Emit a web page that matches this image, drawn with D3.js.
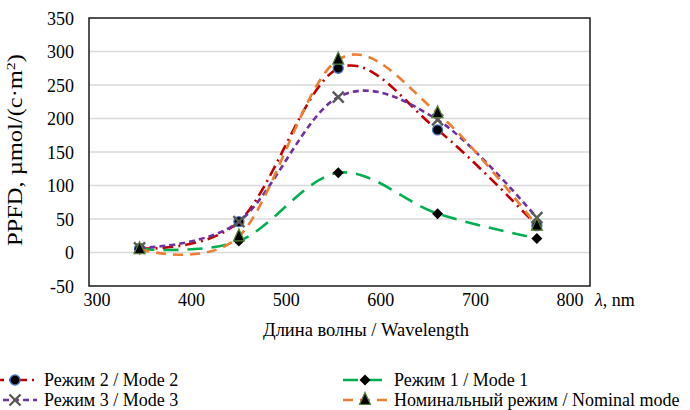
<!DOCTYPE html>
<html>
<head>
<meta charset="utf-8">
<title>PPFD</title>
<script src="https://d3js.org/d3.v7.min.js"></script>
<style>
  body { margin: 0; background: #fff; }
  text { font-family: "Liberation Serif", "Times New Roman", serif; fill: #000; }
</style>
</head>
<body>
<div id="chart"></div>
<script>
// wavelengths of the measurement points, nm
var wavelengths = [345, 450, 555, 660, 765];

// PPFD values, µmol/(c·m²)
var mode2 = [6, 46, 275, 183, 40];
var mode1 = [5, 17, 119, 58, 21];
var mode3 = [7, 46, 232, 198, 52];
var nominal = [5, 24, 288, 208, 40];

var xTicks = [300, 400, 500, 600, 700, 800];
var yTicks = [-50, 0, 50, 100, 150, 200, 250, 300, 350];

var series = [
  { name: "Режим 2 / Mode 2", values: mode2, color: "#c00000", dash: "11,5,2,5", marker: "circle" },
  { name: "Режим 1 / Mode 1", values: mode1, color: "#00b050", dash: "15,9", marker: "diamond" },
  { name: "Режим 3 / Mode 3", values: mode3, color: "#7030a0", dash: "6,4", marker: "cross" },
  { name: "Номинальный режим / Nominal mode", values: nominal, color: "#ed7d31", dash: "10,7", marker: "triangle" }
];

var width = 690, height = 410;
var plot = { left: 89, right: 590, top: 18, bottom: 286 };

var svg = d3.select("#chart").append("svg")
    .attr("width", width)
    .attr("height", height);

var x = d3.scaleLinear().domain([300, 800]).range([97, 570]);
var y = d3.scaleLinear().domain([-50, 350]).range([plot.bottom, plot.top]);

// gridlines
svg.selectAll(".grid")
    .data(yTicks.slice(1, -1))
    .enter().append("line")
    .attr("x1", plot.left).attr("x2", plot.right)
    .attr("y1", d => y(d)).attr("y2", d => y(d))
    .attr("stroke", "#d9d9d9")
    .attr("stroke-width", 1.3);

// frame
svg.append("rect")
    .attr("x", plot.left).attr("y", plot.top)
    .attr("width", plot.right - plot.left)
    .attr("height", plot.bottom - plot.top)
    .attr("fill", "none")
    .attr("stroke", "#1a1a1a")
    .attr("stroke-width", 1.5);

// y tick labels
svg.selectAll(".ytick")
    .data(yTicks)
    .enter().append("text")
    .attr("x", 74)
    .attr("y", d => y(d))
    .attr("dy", "0.38em")
    .attr("text-anchor", "end")
    .style("font-size", "18px")
    .text(d => d);

// x tick labels
svg.selectAll(".xtick")
    .data(xTicks)
    .enter().append("text")
    .attr("x", d => x(d))
    .attr("y", 306)
    .attr("text-anchor", "middle")
    .style("font-size", "18px")
    .text(d => d);

var lam = svg.append("text")
    .attr("x", 595).attr("y", 306)
    .style("font-size", "18px");
lam.append("tspan").style("font-style", "italic").text("λ");
lam.append("tspan").text(", nm");

svg.append("text")
    .attr("x", 366).attr("y", 336)
    .attr("text-anchor", "middle")
    .style("font-size", "18.5px")
    .text("Длина волны / Wavelength");

var yt = svg.append("text")
    .attr("transform", "translate(22,150) rotate(-90)")
    .attr("text-anchor", "middle")
    .attr("textLength", 192)
    .attr("lengthAdjust", "spacingAndGlyphs")
    .style("font-size", "20px");
yt.append("tspan").text("PPFD, µmol/(c·m");
yt.append("tspan").attr("dy", -7).style("font-size", "13px").text("2");
yt.append("tspan").attr("dy", 7).text(")");

var line = d3.line()
    .x(d => x(d[0]))
    .y(d => y(d[1]))
    .curve(d3.curveCardinal.tension(0));

function drawMarker(g, type, cx, cy) {
  if (type === "circle") {
    g.append("circle").attr("cx", cx).attr("cy", cy).attr("r", 5)
      .attr("fill", "#000").attr("stroke", "#4472c4").attr("stroke-width", 1.3);
  } else if (type === "diamond") {
    g.append("path").attr("d", "M0,-5.5L5.5,0L0,5.5L-5.5,0Z")
      .attr("transform", "translate(" + cx + "," + cy + ")")
      .attr("fill", "#000");
  } else if (type === "cross") {
    g.append("path").attr("d", "M-5.5,-5.5L5.5,5.5M-5.5,5.5L5.5,-5.5")
      .attr("transform", "translate(" + cx + "," + cy + ")")
      .attr("stroke", "#595959").attr("stroke-width", 2.4).attr("fill", "none");
  } else if (type === "triangle") {
    g.append("path").attr("d", "M0,-7.5L5.5,4.5L-5.5,4.5Z")
      .attr("transform", "translate(" + cx + "," + cy + ")")
      .attr("fill", "#000").attr("stroke", "#548235").attr("stroke-width", 1.2);
  }
}

series.forEach(function(s) {
  var pts = wavelengths.map((w, i) => [w, s.values[i]]);
  svg.append("path")
      .datum(pts)
      .attr("d", line)
      .attr("fill", "none")
      .attr("stroke", s.color)
      .attr("stroke-width", 2.6)
      .attr("stroke-dasharray", s.dash);
  var g = svg.append("g");
  pts.forEach(p => drawMarker(g, s.marker, x(p[0]), y(p[1])));
});

// legend: two columns, row-major order
var legendPos = [[15, 380], [365, 380], [15, 400], [365, 400]];
series.forEach(function(s, i) {
  var lx = legendPos[i][0], ly = legendPos[i][1];
  var g = svg.append("g");
  g.append("line")
      .attr("x1", lx - 22).attr("x2", lx + 22)
      .attr("y1", ly).attr("y2", ly)
      .attr("stroke", s.color)
      .attr("stroke-width", 2.6)
      .attr("stroke-dasharray", s.dash);
  drawMarker(g, s.marker, lx, ly);
  g.append("text")
      .attr("x", lx + 29).attr("y", ly)
      .attr("dy", "0.35em")
      .style("font-size", "18px")
      .text(s.name);
});
</script>
</body>
</html>
